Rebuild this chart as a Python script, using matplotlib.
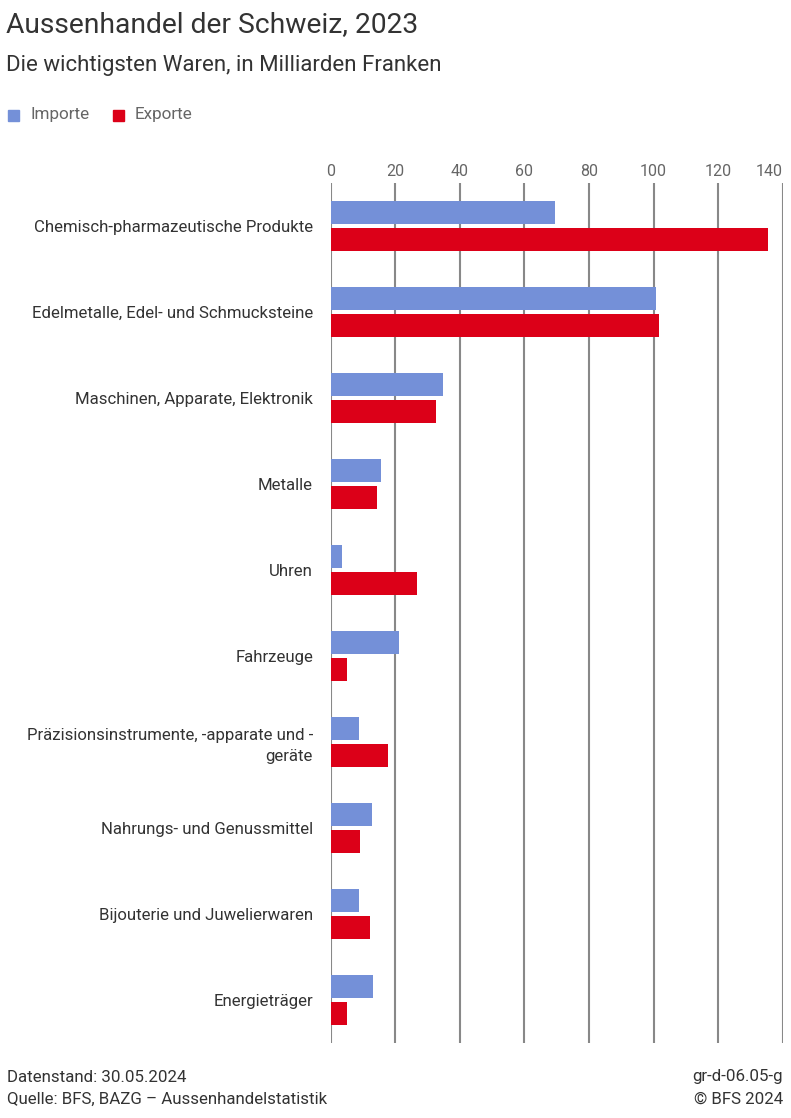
import matplotlib
matplotlib.use("Agg")
from matplotlib import pyplot as plt
import numpy as np

plt.rcParams['font.family'] = ['Roboto', 'DejaVu Sans']

# data, in Mrd. Franken
categories = [
    "Chemisch-pharmazeutische Produkte",
    "Edelmetalle, Edel- und Schmucksteine",
    "Maschinen, Apparate, Elektronik",
    "Metalle",
    "Uhren",
    "Fahrzeuge",
    "Präzisionsinstrumente, -apparate und -\ngeräte",
    "Nahrungs- und Genussmittel",
    "Bijouterie und Juwelierwaren",
    "Energieträger",
]
importe = [69.6, 100.8, 34.8, 15.6, 3.4, 21.3, 8.7, 12.7, 8.7, 13.0]
exporte = [135.4, 101.7, 32.7, 14.4, 26.6, 5.2, 17.8, 9.1, 12.2, 5.2]
xticks = [0, 20, 40, 60, 80, 100, 120, 140]

col_imp = "#7490d8"
col_exp = "#dc0018"
text_col = "#333333"
grey = "#666666"

W, H = 791, 1118
fig = plt.figure(figsize=(W / 100, H / 100), dpi=100)

# axes in pixel coords
left, right, top, bottom = 330.7, 782.7, 183, 1043
ax = fig.add_axes([left / W, 1 - bottom / H, (right - left) / W, (bottom - top) / H])

y = np.arange(len(categories))
bh = 0.267
ax.barh(y - bh / 2 - 0.02, importe, height=bh, color=col_imp, zorder=3)
ax.barh(y + bh / 2 + 0.02, exporte, height=bh, color=col_exp, zorder=3)

ax.set_xlim(0, 140)
ax.set_ylim(len(categories) - 0.5, -0.5)
ax.set_xticks(xticks)
ax.xaxis.tick_top()
ax.tick_params(axis="x", length=0, pad=3, labelsize=11.5, labelcolor=grey)
ax.set_yticks(y)
ax.set_yticklabels(categories, fontsize=12.1, color=text_col, ha="right",
                   multialignment="right", linespacing=1.45)
ax.tick_params(axis="y", length=0, pad=12.7)
for s in ax.spines.values():
    s.set_visible(False)
ax.grid(axis="x", color="#888888", linewidth=1.5, zorder=0)

# keep the last tick label inside the figure
labels = ax.get_xticklabels()
labels[-1].set_horizontalalignment("right")
labels[-1].set_x(140)

# title and subtitle
fig.text(6 / W, 1 - 25 / H, "Aussenhandel der Schweiz, 2023", fontsize=20.3,
         color=text_col, va="center")
fig.text(6 / W, 1 - 66 / H, "Die wichtigsten Waren, in Milliarden Franken",
         fontsize=16, color=text_col, va="center")

# legend
for x0, lab, c in [(8, "Importe", col_imp), (113, "Exporte", col_exp)]:
    fig.patches.append(plt.Rectangle((x0 / W, 1 - 121 / H), 11 / W, 11 / H,
                                     color=c, transform=fig.transFigure))
    fig.text((x0 + 22) / W, 1 - 115 / H, lab, fontsize=12.3, color=grey, va="center")

# footer
fig.text(7 / W, 1 - 1077 / H, "Datenstand: 30.05.2024", fontsize=12.2,
         color=text_col, va="center")
fig.text(7 / W, 1 - 1099 / H, "Quelle: BFS, BAZG – Aussenhandelstatistik",
         fontsize=12.2, color=text_col, va="center")
fig.text(783 / W, 1 - 1077 / H, "gr-d-06.05-g", fontsize=12.2,
         color=text_col, va="center", ha="right")
fig.text(783 / W, 1 - 1099 / H, "© BFS 2024", fontsize=12.2,
         color=text_col, va="center", ha="right")

fig.savefig("out.png", dpi=100)
